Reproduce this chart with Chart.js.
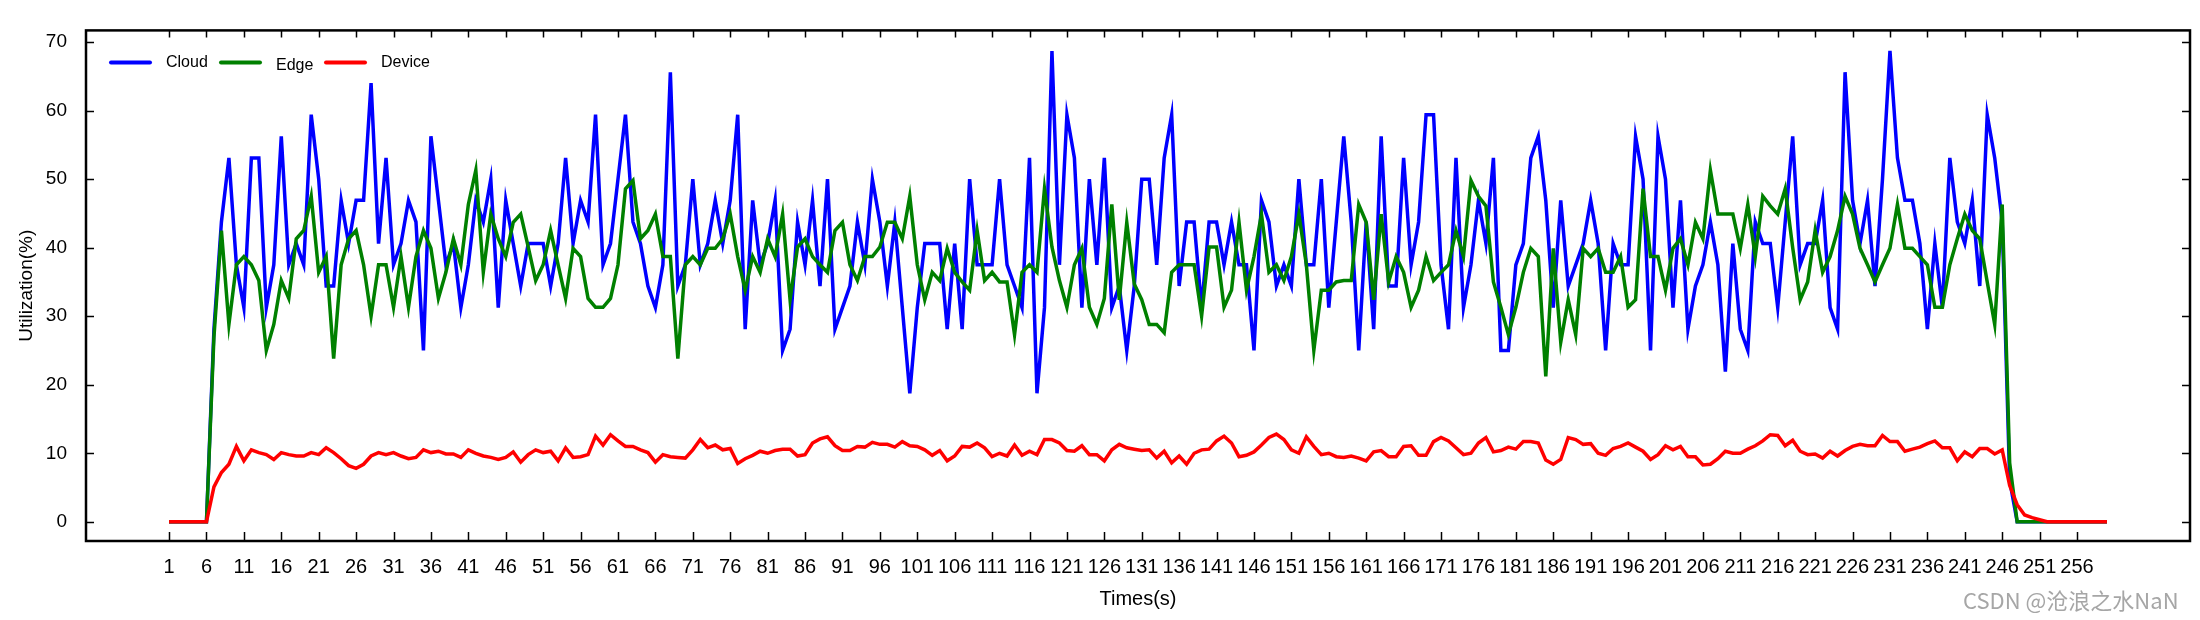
<!DOCTYPE html>
<html>
<head>
<meta charset="utf-8">
<title>Utilization</title>
<script src="https://cdn.jsdelivr.net/npm/chart.js@4.4.1/dist/chart.umd.min.js"></script>
<style>
  body { margin: 0; background: #fff; }
  #wrap { position: relative; width: 2200px; height: 620px; }
  #mark {
    position: absolute; left: 1963px; top: 583px;
    font-family: 'Noto Sans CJK SC', 'Liberation Sans', sans-serif;
    font-size: 22px; color: #a6a6a6; white-space: nowrap;
  }
</style>
</head>
<body>
<div id="wrap">
  <canvas id="chart" width="2200" height="620"></canvas>
  <div id="mark">CSDN @沧浪之水NaN</div>
</div>
<script>
// Series values, one per second (t = 1 .. 260)
const cloud = [
  0, 0, 0, 0, 0, 0, 28.1, 43.75, 53.1, 37.5,
  31.25, 53.1, 53.1, 31.25, 37.5, 56.25, 37.5, 40.6, 37.5, 59.4,
  50, 34.4, 34.4, 46.9, 40.6, 46.9, 46.9, 64, 40.6, 53.1,
  37.5, 40.6, 46.9, 43.75, 25, 56.25, 46.9, 37.5, 40.6, 31.25,
  37.5, 46.9, 43.75, 50, 31.25, 46.9, 40.6, 34.4, 40.6, 40.6,
  40.6, 34.4, 40.6, 53.1, 40.6, 46.9, 43.75, 59.4, 37.5, 40.6,
  50, 59.4, 43.75, 40.6, 34.4, 31.25, 37.5, 65.6, 34.4, 37.5,
  50, 37.5, 40.6, 46.9, 40.6, 46.9, 59.4, 28.1, 46.9, 37.5,
  40.6, 46.9, 25, 28.1, 43.75, 37.5, 46.9, 34.4, 50, 28.1,
  31.25, 34.4, 43.75, 37.5, 50, 43.75, 34.4, 43.75, 31.25, 18.75,
  31.25, 40.6, 40.6, 40.6, 28.1, 40.6, 28.1, 50, 37.5, 37.5,
  37.5, 50, 37.5, 34.4, 31.25, 53.1, 18.75, 31.25, 68.7, 37.5,
  59.4, 53.1, 31.25, 50, 37.5, 53.1, 31.25, 34.4, 25, 34.4,
  50, 50, 37.5, 53.1, 59.4, 34.4, 43.75, 43.75, 31.25, 43.75,
  43.75, 37.5, 43.75, 37.5, 37.5, 25, 46.9, 43.75, 34.4, 37.5,
  34.4, 50, 37.5, 37.5, 50, 31.25, 43.75, 56.25, 43.75, 25,
  43.75, 28.1, 56.25, 34.4, 34.4, 53.1, 37.5, 43.75, 59.4, 59.4,
  37.5, 28.1, 53.1, 31.25, 37.5, 46.9, 40.6, 53.1, 25, 25,
  37.5, 40.6, 53.1, 56.25, 46.9, 31.25, 46.9, 34.4, 37.5, 40.6,
  46.9, 40.6, 25, 40.6, 37.5, 37.5, 56.25, 50, 25, 56.25,
  50, 31.25, 46.9, 28.1, 34.4, 37.5, 43.75, 37.5, 21.9, 40.6,
  28.1, 25, 43.75, 40.6, 40.6, 31.25, 43.75, 56.25, 37.5, 40.6,
  40.6, 46.9, 31.25, 28.1, 65.6, 46.9, 40.6, 46.9, 34.4, 50,
  68.7, 53.1, 46.9, 46.9, 40.6, 28.1, 40.6, 31.25, 53.1, 43.75,
  40.6, 46.9, 34.4, 59.4, 53.1, 43.75, 6, 0, 0, 0,
  0, 0, 0, 0, 0, 0, 0, 0, 0, 0
];

const edge = [
  0, 0, 0, 0, 0, 0, 27, 42.5, 28.8, 37.5,
  38.7, 37.5, 35.2, 25, 28.8, 35.2, 32.6, 41.3, 42.5, 47.5,
  36.4, 38.7, 23.8, 37.5, 41.3, 42.5, 37.5, 30, 37.5, 37.5,
  31.3, 38.7, 31.3, 38.7, 42.5, 39.9, 32.6, 36.4, 41.3, 37.5,
  46.3, 51.3, 36.4, 44.9, 41.3, 38.7, 43.7, 44.9, 40.1, 35.2,
  37.5, 42.5, 37.5, 32.6, 39.9, 38.7, 32.6, 31.3, 31.3, 32.6,
  37.5, 48.6, 49.8, 41.3, 42.5, 44.9, 38.7, 38.7, 23.8, 37.5,
  38.7, 37.5, 39.9, 39.9, 41.3, 44.9, 38.7, 33.8, 38.7, 36.4,
  41.3, 38.7, 44.9, 32.4, 40.1, 41.3, 38.7, 37.5, 36.4, 42.5,
  43.7, 37.5, 35.2, 38.7, 38.7, 40.1, 43.7, 43.7, 41.3, 47.5,
  37.5, 32.4, 36.4, 35.2, 39.9, 36.4, 35, 33.8, 42.5, 35.2,
  36.4, 35, 35, 27.3, 36.4, 37.5, 36.4, 48.6, 40.1, 35.2,
  31.3, 37.5, 39.9, 31.3, 28.8, 32.6, 46.3, 32.4, 43.7, 34.7,
  32.4, 28.8, 28.8, 27.6, 36.4, 37.5, 37.5, 37.5, 30, 40.1,
  40.1, 31.3, 33.8, 43.7, 33.8, 38.7, 44.9, 36.4, 37.5, 35.2,
  38.7, 44.9, 37.5, 25, 33.8, 33.8, 35, 35.2, 35.2, 46.3,
  43.7, 32.4, 44.9, 35, 38.7, 36.4, 31.3, 33.8, 38.7, 35.2,
  36.4, 37.5, 42.5, 38.7, 49.8, 47.5, 46.1, 35, 31.3, 27.3,
  31.3, 36.4, 39.9, 38.7, 21.2, 39.9, 26.2, 32.4, 27.3, 39.9,
  38.7, 39.9, 36.4, 36.4, 38.7, 31.3, 32.4, 48.6, 38.7, 38.7,
  33.8, 39.9, 41.3, 37.5, 43.7, 41.3, 51.3, 44.9, 44.9, 44.9,
  39.9, 46.3, 38.7, 47.5, 46.1, 44.9, 48.6, 40, 32.4, 35,
  42.5, 36.4, 38.7, 42.5, 47.5, 44.9, 39.9, 37.5, 35, 37.5,
  39.9, 46.3, 39.9, 39.9, 38.7, 37.5, 31.3, 31.3, 37.5, 41.3,
  44.9, 42.5, 41.3, 35, 28.8, 46.3, 8.6, 0, 0, 0,
  0, 0, 0, 0, 0, 0, 0, 0, 0, 0
];

const device = [
  0, 0, 0, 0, 0, 0, 5.1, 7.2, 8.4, 11.0,
  8.9, 10.5, 10.1, 9.8, 9.1, 10.1, 9.8, 9.6, 9.6, 10.1,
  9.8, 10.8, 10.1, 9.2, 8.2, 7.8, 8.4, 9.6, 10.1, 9.8,
  10.1, 9.6, 9.2, 9.4, 10.5, 10.1, 10.3, 9.9, 9.9, 9.4,
  10.5, 10.0, 9.6, 9.4, 9.1, 9.4, 10.2, 8.7, 9.8, 10.5,
  10.1, 10.3, 8.9, 10.8, 9.4, 9.5, 9.8, 12.5, 11.2, 12.7,
  11.8, 11.0, 11.0, 10.5, 10.1, 8.7, 9.8, 9.5, 9.4, 9.3,
  10.5, 12.0, 10.8, 11.2, 10.5, 10.7, 8.5, 9.2, 9.7, 10.3,
  10.0, 10.4, 10.6, 10.6, 9.6, 9.8, 11.5, 12.1, 12.4, 11.1,
  10.4, 10.4, 11.0, 10.9, 11.6, 11.3, 11.3, 10.9, 11.7, 11.1,
  11.0, 10.5, 9.7, 10.4, 8.9, 9.6, 11.0, 10.9, 11.5, 10.8,
  9.5, 10.0, 9.6, 11.2, 9.7, 10.3, 9.8, 12.0, 12.0, 11.5,
  10.4, 10.3, 11.1, 9.8, 9.8, 8.9, 10.5, 11.3, 10.8, 10.6,
  10.4, 10.5, 9.3, 10.3, 8.6, 9.6, 8.4, 10.0, 10.5, 10.6,
  11.8, 12.5, 11.5, 9.5, 9.7, 10.2, 11.2, 12.3, 12.8, 12.0,
  10.5, 10.0, 12.4, 11.0, 9.8, 10.0, 9.5, 9.4, 9.6, 9.3,
  8.9, 10.2, 10.4, 9.5, 9.5, 11.0, 11.1, 9.7, 9.7, 11.7,
  12.3, 11.8, 10.8, 9.8, 10.0, 11.5, 12.3, 10.2, 10.4, 10.9,
  10.6, 11.7, 11.7, 11.5, 9.0, 8.4, 9.1, 12.3, 12.0, 11.3,
  11.4, 10.0, 9.7, 10.7, 11.0, 11.5, 10.9, 10.3, 9.1, 9.8,
  11.1, 10.5, 11.0, 9.5, 9.5, 8.3, 8.4, 9.2, 10.3, 10.0,
  10.0, 10.6, 11.1, 11.8, 12.7, 12.6, 11.1, 11.9, 10.3, 9.8,
  9.9, 9.3, 10.3, 9.6, 10.4, 11.0, 11.3, 11.1, 11.1, 12.6,
  11.7, 11.7, 10.3, 10.6, 10.9, 11.4, 11.8, 10.8, 10.8, 8.9,
  10.2, 9.5, 10.7, 10.7, 9.9, 10.5, 5.3, 2.5, 1.0, 0.6,
  0.3, 0, 0, 0, 0, 0, 0, 0, 0, 0
];

// Time stamps (s) and tick labels
const times = cloud.map((_, i) => i + 1);
const xTicks = [1, 6, 11, 16, 21, 26, 31, 36, 41, 46, 51, 56, 61, 66, 71, 76, 81, 86, 91, 96,
  101, 106, 111, 116, 121, 126, 131, 136, 141, 146, 151, 156, 161, 166, 171, 176, 181, 186,
  191, 196, 201, 206, 211, 216, 221, 226, 231, 236, 241, 246, 251, 256];
const yTicks = [0, 10, 20, 30, 40, 50, 60, 70];

const seriesNames = ['Cloud', 'Edge', 'Device'];
const seriesColors = ['#0000ff', '#008000', '#ff0000'];

const toPoints = (values) => values.map((v, i) => ({ x: times[i], y: v }));

// Box, inward tick marks and the in-plot legend
const frameAndLegend = {
    id: 'frameAndLegend',
    afterDraw(chart) {
        const { ctx, chartArea: a, scales: { x, y } } = chart;
        ctx.save();
        ctx.strokeStyle = '#000';
        ctx.lineWidth = 1.5;
        ctx.beginPath();
        xTicks.forEach(v => {
            const px = Math.round(x.getPixelForValue(v)) + 0.5;
            ctx.moveTo(px, a.bottom); ctx.lineTo(px, a.bottom - 9);
            ctx.moveTo(px, a.top); ctx.lineTo(px, a.top + 7);
        });
        yTicks.forEach(v => {
            const py = Math.round(y.getPixelForValue(v)) + 0.5;
            ctx.moveTo(a.left, py); ctx.lineTo(a.left + 8, py);
            ctx.moveTo(a.right, py); ctx.lineTo(a.right - 8, py);
        });
        ctx.stroke();

        ctx.lineWidth = 2.5;
        ctx.strokeRect(a.left, a.top, a.right - a.left, a.bottom - a.top);

        // legend
        const legendX = [a.left + 25, a.left + 135, a.left + 240];
        const textDy = [0, 3, 0];
        ctx.font = '16px "Liberation Sans", Arial, sans-serif';
        ctx.textBaseline = 'middle';
        ctx.textAlign = 'left';
        ctx.lineCap = 'round';
        chart.data.datasets.forEach((ds, i) => {
            const lx = legendX[i];
            const ly = a.top + 32;
            ctx.strokeStyle = ds.borderColor;
            ctx.lineWidth = 4;
            ctx.beginPath();
            ctx.moveTo(lx, ly);
            ctx.lineTo(lx + 39, ly);
            ctx.stroke();
            ctx.fillStyle = '#000';
            ctx.fillText(ds.label, lx + 55, ly + textDy[i]);
        });
        ctx.restore();
    }
};

const ctx = document.getElementById('chart').getContext('2d');

new Chart(ctx, {
    type: 'line',
    data: {
        datasets: [
            { label: seriesNames[0], data: toPoints(cloud), borderColor: seriesColors[0], order: 3 },
            { label: seriesNames[1], data: toPoints(edge), borderColor: seriesColors[1], order: 2 },
            { label: seriesNames[2], data: toPoints(device), borderColor: seriesColors[2], order: 1 }
        ]
    },
    options: {
        responsive: false,
        animation: false,
        devicePixelRatio: 1,
        layout: { padding: { top: 10, right: 10, left: 0, bottom: 0 } },
        elements: {
            line: { borderWidth: 3.5, tension: 0, fill: false },
            point: { radius: 0 }
        },
        plugins: {
            legend: { display: false },
            tooltip: { enabled: false }
        },
        scales: {
            x: {
                type: 'linear',
                min: -10.1,
                max: 271.1,
                grid: { display: false, drawTicks: false },
                border: { display: false },
                afterBuildTicks: (scale) => { scale.ticks = xTicks.map(v => ({ value: v })); },
                afterFit: (scale) => { scale.height = 79; },
                ticks: {
                    autoSkip: false,
                    maxRotation: 0,
                    minRotation: 0,
                    padding: 14,
                    color: '#000',
                    font: { family: '"Liberation Sans Narrow", "Liberation Sans", Arial, sans-serif', size: 20 },
                    callback: (v) => v
                },
                title: {
                    display: true,
                    text: 'Times(s)',
                    color: '#000',
                    font: { family: '"Liberation Sans", Arial, sans-serif', size: 20 },
                    padding: { top: 0, bottom: 9 }
                }
            },
            y: {
                min: -2.8,
                max: 71.7,
                grid: { display: false, drawTicks: false },
                border: { display: false },
                afterBuildTicks: (scale) => { scale.ticks = yTicks.map(v => ({ value: v })); },
                afterFit: (scale) => { scale.width = 86; },
                ticks: {
                    padding: 19,
                    color: '#000',
                    font: { family: '"Liberation Sans", Arial, sans-serif', size: 19 }
                },
                title: {
                    display: true,
                    text: 'Utilization(%)',
                    color: '#000',
                    font: { family: '"Liberation Sans", Arial, sans-serif', size: 19 },
                    padding: { top: 15, bottom: 0 }
                }
            }
        }
    },
    plugins: [frameAndLegend]
});
</script>
</body>
</html>
